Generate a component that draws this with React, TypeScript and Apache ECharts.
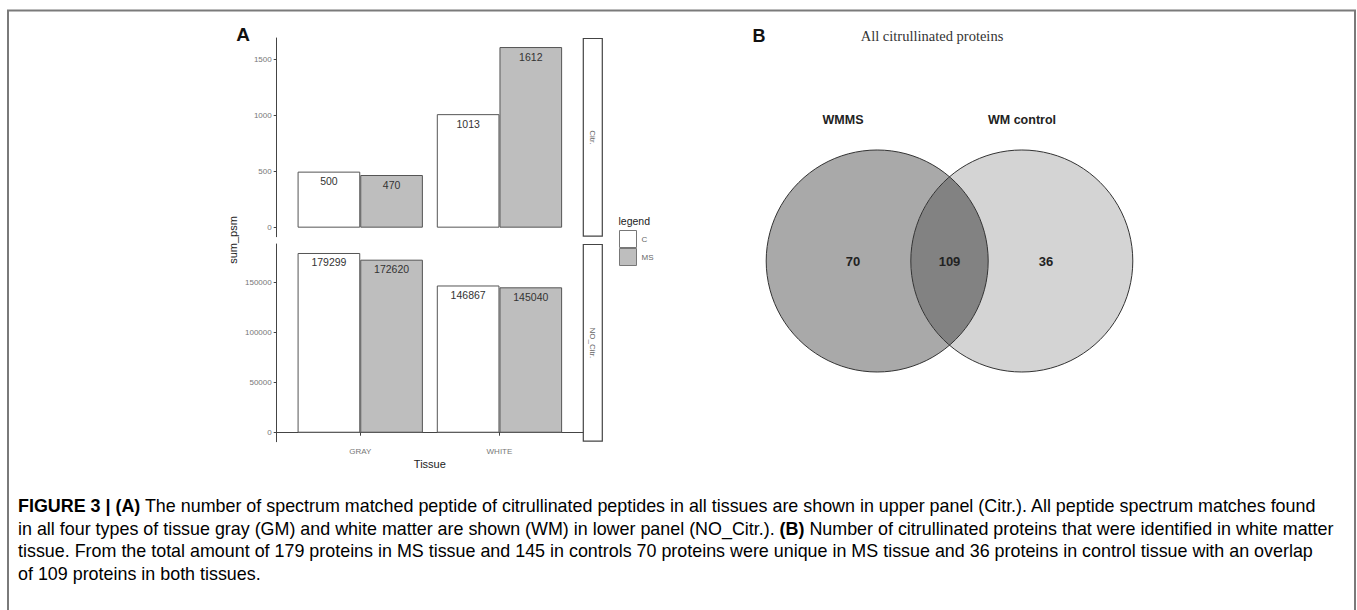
import React, { useEffect, useRef } from 'react';
import * as echarts from 'echarts';

// ---------- data ----------
const categories = ['GRAY', 'WHITE'];
const groups = ['C', 'MS'];
const citrC = [500, 1013];
const citrMS = [470, 1612];
const noCitrC = [179299, 146867];
const noCitrMS = [172620, 145040];
const citrTicks = [0, 500, 1000, 1500];
const noCitrTicks = [0, 50000, 100000, 150000];
const panelNames = ['Citr.', 'NO_Citr.'];
const vennTitle = 'All citrullinated proteins';
const vennSets = ['WMMS', 'WM control'];
const vennCounts = [70, 109, 36];
const captionLines = [
  '{b|FIGURE 3 | (A)}{n| The number of spectrum matched peptide of citrullinated peptides in all tissues are shown in upper panel (Citr.). All peptide spectrum matches found}',
  '{n|in all four types of tissue gray (GM) and white matter are shown (WM) in lower panel (NO_Citr.). }{b|(B)}{n| Number of citrullinated proteins that were identified in white matter}',
  '{n|tissue. From the total amount of 179 proteins in MS tissue and 145 in controls 70 proteins were unique in MS tissue and 36 proteins in control tissue with an overlap}',
  '{n|of 109 proteins in both tissues.}',
];

// ---------- layout ----------
const FONT = '"Liberation Sans", Arial, Helvetica, sans-serif';
const PL = 276.7;
const PW = 306.3;
const PTOP = [38, 244];
const PH = [198.7, 197.7];
const STRIP_X = 583.3;
const STRIP_W = 19;

const VR = 111;
const VCX = [877.2, 1021.8];
const VCY = 261;
const vHalf = (VCX[1] - VCX[0]) / 2;
const vH = Math.sqrt(VR * VR - vHalf * vHalf);
const lensD = `M0 ${-vH} A${VR} ${VR} 0 0 1 0 ${vH} A${VR} ${VR} 0 0 1 0 ${-vH} Z`;
echarts.graphic.registerShape('vennLens', echarts.graphic.extendPath(lensD, {}));

function expand(vals: number[]) {
  const m = Math.max(...vals);
  return [-0.05 * m, 1.05 * m];
}

function barSeries(name: string, vals: number[], idx: number, fill: string) {
  return {
    type: 'bar',
    name,
    xAxisIndex: idx,
    yAxisIndex: idx,
    data: vals.map((v, i) => [i + 1, v]),
    barWidth: '45%',
    barGap: '0%',
    itemStyle: { color: fill, borderColor: '#555', borderWidth: 1 },
    label: {
      show: true,
      position: 'insideTop',
      distance: 4,
      formatter: (p: any) => String(p.value[1]),
      fontSize: 10.5,
      color: '#333',
      fontFamily: FONT,
    },
    emphasis: { disabled: true },
  };
}

function yAxis(idx: number, ext: number[], ticks: number[]) {
  return {
    type: 'value',
    gridIndex: idx,
    min: ext[0],
    max: ext[1],
    axisLine: { show: true, lineStyle: { color: '#444', width: 1 } },
    axisTick: { show: true, customValues: ticks, length: 3, lineStyle: { color: '#444' } },
    axisLabel: {
      customValues: ticks, fontSize: 8, color: '#777', margin: 5, fontFamily: FONT,
      formatter: (v: number) => String(v),
    },
    splitLine: { show: false },
  };
}

export default function App() {
  const ref = useRef<HTMLDivElement>(null);
  useEffect(() => {
    const chart = echarts.init(ref.current!, null, { renderer: 'svg' });
    const upExt = expand([...citrC, ...citrMS]);
    const loExt = expand([...noCitrC, ...noCitrMS]);

    const elements: any[] = [];
    // frame
    elements.push({
      type: 'rect',
      shape: { x: 8, y: 10.5, width: 1347, height: 620 },
      style: { fill: 'none', stroke: '#7a7a7a', lineWidth: 2 },
    });
    // panel letters
    elements.push({ type: 'text', x: 243, y: 34, style: { text: 'A', font: `bold 19px ${FONT}`, fill: '#111', align: 'center', verticalAlign: 'middle' } });
    elements.push({ type: 'text', x: 759, y: 36, style: { text: 'B', font: `bold 18px ${FONT}`, fill: '#111', align: 'center', verticalAlign: 'middle' } });
    // y axis title
    elements.push({
      type: 'text', x: 233, y: 240, rotation: Math.PI / 2,
      style: { text: 'sum_psm', font: `11px ${FONT}`, fill: '#222', align: 'center', verticalAlign: 'middle' },
    });
    // strips
    panelNames.forEach((nm, i) => {
      elements.push({
        type: 'rect',
        shape: { x: STRIP_X, y: PTOP[i] + 0.5, width: STRIP_W, height: PH[i] - 1 },
        style: { fill: '#fff', stroke: '#444', lineWidth: 1.2 },
      });
      elements.push({
        type: 'text', x: STRIP_X + STRIP_W / 2, y: PTOP[i] + PH[i] / 2, rotation: -Math.PI / 2,
        style: { text: nm, font: `8px ${FONT}`, fill: '#666', align: 'center', verticalAlign: 'middle' },
      });
    });
    // legend title
    elements.push({ type: 'text', x: 618.5, y: 221, style: { text: 'legend', font: `10.5px ${FONT}`, fill: '#222', align: 'left', verticalAlign: 'middle' } });

    // venn
    elements.push({ type: 'text', x: 932, y: 36, style: { text: vennTitle, font: `14.5px "Liberation Serif", "Times New Roman", serif`, fill: '#333', align: 'center', verticalAlign: 'middle' } });
    elements.push({ type: 'circle', shape: { cx: VCX[0], cy: VCY, r: VR }, style: { fill: '#a9a9a9' } });
    elements.push({ type: 'circle', shape: { cx: VCX[1], cy: VCY, r: VR }, style: { fill: '#d4d4d4' } });
    elements.push({ type: 'vennLens', x: (VCX[0] + VCX[1]) / 2, y: VCY, style: { fill: '#828282' } });
    elements.push({ type: 'circle', shape: { cx: VCX[0], cy: VCY, r: VR }, style: { fill: 'none', stroke: '#333', lineWidth: 1 } });
    elements.push({ type: 'circle', shape: { cx: VCX[1], cy: VCY, r: VR }, style: { fill: 'none', stroke: '#333', lineWidth: 1 } });
    elements.push({ type: 'text', x: 843, y: 120, style: { text: vennSets[0], font: `bold 12.5px ${FONT}`, fill: '#222', align: 'center', verticalAlign: 'middle' } });
    elements.push({ type: 'text', x: 1022, y: 120, style: { text: vennSets[1], font: `bold 12.5px ${FONT}`, fill: '#222', align: 'center', verticalAlign: 'middle' } });
    const numX = [853, (VCX[0] + VCX[1]) / 2, 1046];
    vennCounts.forEach((c, i) => {
      elements.push({ type: 'text', x: numX[i], y: VCY, style: { text: String(c), font: `bold 13px ${FONT}`, fill: '#222', align: 'center', verticalAlign: 'middle' } });
    });

    // caption
    const capY = [506, 528.5, 551, 573.5];
    captionLines.forEach((ln, i) => {
      elements.push({
        type: 'text', x: 18, y: capY[i],
        style: {
          text: ln, align: 'left', verticalAlign: 'middle',
          rich: {
            n: { fontSize: 17.9, fontFamily: FONT, fontWeight: 'normal', color: '#3d3d3d' },
            b: { fontSize: 17.9, fontFamily: FONT, fontWeight: 'bold', color: '#222' },
          },
        },
      });
    });

    chart.setOption({
      animation: false,
      grid: [
        { left: PL, top: PTOP[0], width: PW, height: PH[0] },
        { left: PL, top: PTOP[1], width: PW, height: PH[1] },
      ],
      xAxis: [
        { type: 'value', gridIndex: 0, min: 0.4, max: 2.6, show: false, splitLine: { show: false } },
        {
          type: 'value', gridIndex: 1, min: 0.4, max: 2.6,
          axisLine: { show: true, lineStyle: { color: '#444', width: 1 } },
          axisTick: { show: true, customValues: [1, 2], length: 3, lineStyle: { color: '#444' } },
          axisLabel: {
            customValues: [1, 2], fontSize: 8, color: '#777', margin: 6, fontFamily: FONT,
            formatter: (v: number) => categories[Math.round(v) - 1] ?? '',
          },
          splitLine: { show: false },
          name: 'Tissue', nameLocation: 'middle', nameGap: 17,
          nameTextStyle: { fontSize: 11, color: '#222', fontFamily: FONT },
        },
      ],
      yAxis: [yAxis(0, upExt, citrTicks), yAxis(1, loExt, noCitrTicks)],
      legend: {
        data: groups,
        orient: 'vertical',
        left: 619,
        top: 230,
        padding: 0,
        itemGap: 0,
        itemWidth: 17,
        itemHeight: 17,
        icon: 'rect',
        selectedMode: false,
        itemStyle: { borderColor: '#777', borderWidth: 1 },
        textStyle: { fontSize: 8, color: '#666', fontFamily: FONT },
      },
      series: [
        barSeries(groups[0], citrC, 0, '#ffffff'),
        barSeries(groups[1], citrMS, 0, '#bebebe'),
        barSeries(groups[0], noCitrC, 1, '#ffffff'),
        barSeries(groups[1], noCitrMS, 1, '#bebebe'),
      ],
      graphic: { elements },
    });
    return () => chart.dispose();
  }, []);
  return <div ref={ref} style={{ position: 'fixed', left: 0, top: 0, width: 1357, height: 610, background: '#fff' }} />;
}
